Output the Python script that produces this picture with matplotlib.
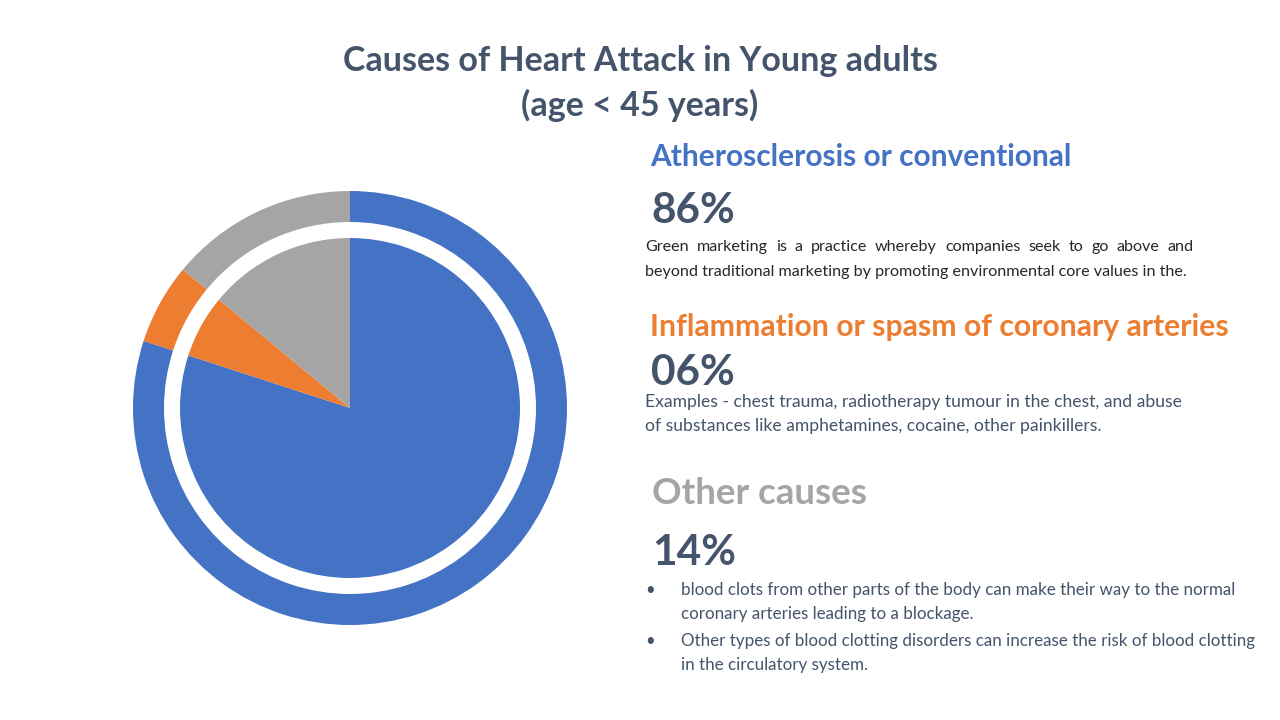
import matplotlib
matplotlib.use("Agg")
import matplotlib.pyplot as plt

# ---- data ----
categories = ["Atherosclerosis or conventional", "Inflammation or spasm of coronary arteries", "Other causes"]
pie_values = [80, 6, 14]
pct_labels = ["86%", "06%", "14%"]
colors = ["#4472C4", "#ED7D31", "#A5A5A5"]
title_lines = ["Causes of Heart Attack in Young adults", "(age < 45 years)"]
desc1 = ["Green marketing is a practice whereby companies seek to go above and",
         "beyond traditional marketing by promoting environmental core values in the."]
desc2 = ["Examples - chest trauma, radiotherapy tumour in the chest, and abuse",
         "of substances like amphetamines, cocaine, other painkillers."]
bullets3 = [["blood clots from other parts of the body can make their way to the normal",
             "coronary arteries leading to a blockage."],
            ["Other types of blood clotting disorders can increase the risk of blood clotting",
             "in the circulatory system."]]

FONT = ["Lato", "DejaVu Sans"]
DARK = "#44546A"

fig = plt.figure(figsize=(12.8, 7.2), dpi=100)
ax = fig.add_axes([0, 0, 1, 1])
ax.set_xlim(0, 1280)
ax.set_ylim(720, 0)
ax.axis("off")

# pie axes in pixel coordinates (y up)
pax = fig.add_axes([0, 0, 1, 1])
pax.set_xlim(0, 1280)
pax.set_ylim(0, 720)
pax.set_aspect("equal")
pax.axis("off")
cx, cy = 350, 720 - 408
pax.pie(pie_values, colors=colors, startangle=90, counterclock=False,
        radius=217, center=(cx, cy), wedgeprops=dict(width=31, linewidth=0))
pax.pie(pie_values, colors=colors, startangle=90, counterclock=False,
        radius=170, center=(cx, cy), wedgeprops=dict(linewidth=0))
pax.set_xlim(0, 1280)
pax.set_ylim(0, 720)

# title
ax.text(640, 61, title_lines[0], ha="center", va="center", fontsize=24.5,
        fontweight="bold", color=DARK, family=FONT)
ax.text(640, 105, title_lines[1], ha="center", va="center", fontsize=24.5,
        fontweight="bold", color=DARK, family=FONT)

def justify(line, x0, x1, y, **kw):
    words = line.split(" ")
    fig.canvas.draw()
    r = fig.canvas.get_renderer()
    ts = [ax.text(0, y, w, va="center", **kw) for w in words]
    widths = [t.get_window_extent(renderer=r).width for t in ts]
    gap = ((x1 - x0) - sum(widths)) / (len(words) - 1)
    x = x0
    for t, w in zip(ts, widths):
        t.set_x(x)
        x += w + gap

# section 1
ax.text(650, 157, categories[0], ha="left", va="center", fontsize=21.5,
        fontweight="bold", color=colors[0], family=FONT)
ax.text(651, 211, pct_labels[0], ha="left", va="center", fontsize=30.5,
        fontweight="bold", color=DARK, family=FONT)
justify(desc1[0], 645, 1194, 247, fontsize=11.6, color="#262626", family=FONT)
ax.text(645, 272, desc1[1], ha="left", va="center", fontsize=11.6, color="#262626", family=FONT)

# section 2
ax.text(650, 327, categories[1], ha="left", va="center", fontsize=21.7,
        fontweight="bold", color=colors[1], family=FONT)
ax.text(651, 373, pct_labels[1], ha="left", va="center", fontsize=30.5,
        fontweight="bold", color=DARK, family=FONT)
ax.text(645, 402, desc2[0], ha="left", va="center", fontsize=12.6, color=DARK, family=FONT)
ax.text(645, 426, desc2[1], ha="left", va="center", fontsize=12.6, color=DARK, family=FONT)

# section 3
ax.text(652, 494, categories[2], ha="left", va="center", fontsize=26.5,
        fontweight="bold", color=colors[2], family=FONT)
ax.text(652, 553, pct_labels[2], ha="left", va="center", fontsize=30.5,
        fontweight="bold", color=DARK, family=FONT)
ys = [[590, 614], [641, 665]]
for b, yy in zip(bullets3, ys):
    ax.text(650, yy[0], "•", ha="center", va="center", fontsize=12, color=DARK, family=FONT)
    for line, y in zip(b, yy):
        ax.text(681, y, line, ha="left", va="center", fontsize=12.25, color=DARK, family=FONT)

fig.savefig("out.png", dpi=100, facecolor="white")
